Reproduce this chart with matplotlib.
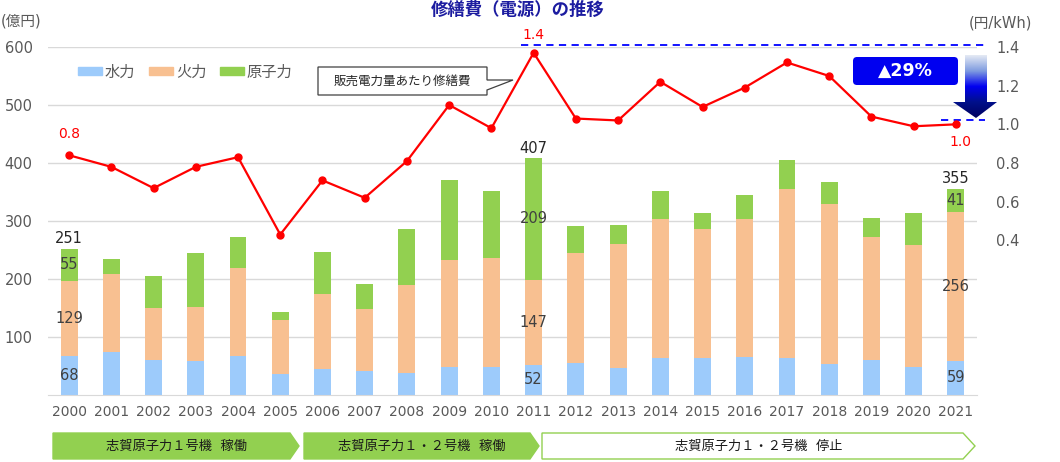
import numpy as np
import matplotlib
matplotlib.use("Agg")
import matplotlib.pyplot as plt
from matplotlib.patches import Polygon, FancyBboxPatch, Patch
from matplotlib.colors import LinearSegmentedColormap

plt.rcParams['font.family'] = ['DejaVu Sans', 'Noto Sans CJK JP']

# ---------------- data ----------------
years = [str(y) for y in range(2000, 2022)]
hydro = [68, 75, 61, 58, 68, 36, 45, 41, 38, 48, 48, 52, 55, 47, 63, 63, 65, 64, 53, 61, 48, 59]
thermal = [129, 134, 89, 94, 151, 94, 129, 107, 152, 184, 189, 147, 189, 214, 241, 223, 238, 291, 276, 212, 211, 256]
nuclear = [55, 25, 55, 92, 53, 13, 73, 43, 96, 138, 114, 209, 47, 32, 47, 28, 42, 51, 39, 32, 55, 41]
totals = [251, 234, 205, 244, 272, 143, 247, 191, 286, 370, 351, 407, 291, 293, 351, 314, 345, 406, 368, 305, 314, 355]
ratio = [0.84, 0.78, 0.67, 0.78, 0.83, 0.43, 0.71, 0.62, 0.81, 1.10, 0.98, 1.37,
         1.03, 1.02, 1.22, 1.09, 1.19, 1.32, 1.25, 1.04, 0.99, 1.00]
labeled_years = ['2000', '2011', '2021']
series_names = ['水力', '火力', '原子力']
phases = ['志賀原子力１号機  稼働', '志賀原子力１・２号機  稼働', '志賀原子力１・２号機  停止']
title = '修繕費（電源）の推移'
callout = '販売電力量あたり修繕費'

c_hydro = '#9DCBFB'
c_thermal = '#F8C091'
c_nuclear = '#92D050'
c_red = '#FF0000'
grey_txt = '#595959'

W, H = 1060, 462
fig = plt.figure(figsize=(W / 100, H / 100), dpi=100)
ax = fig.add_axes([48 / W, 1 - 395 / H, 929 / W, 348 / H])

x = np.arange(len(years))
bw = 0.40
hyd = np.array(hydro)
th = np.array(thermal)
nu = np.array(nuclear)
b1 = ax.bar(x, hyd, bw, color=c_hydro, zorder=2)
b2 = ax.bar(x, th, bw, bottom=hyd, color=c_thermal, zorder=2)
b3 = ax.bar(x, nu, bw, bottom=hyd + th, color=c_nuclear, zorder=2)

def lab(vals):
    return [str(v) if y in labeled_years else '' for y, v in zip(years, vals)]

for cont, vals in ((b1, hydro), (b2, thermal), (b3, nuclear)):
    ax.bar_label(cont, labels=lab(vals), label_type='center', fontsize=10.5, color='#404040')
ax.bar_label(b3, labels=lab(totals), padding=2, fontsize=10.5, color='#262626')

ax.set_xlim(-0.5, len(years) - 0.5)
ax.set_ylim(0, 600)
ax.set_yticks([100, 200, 300, 400, 500, 600])
ax.set_xticks(x)
ax.set_xticklabels(years)
ax.tick_params(axis='both', length=0, labelsize=10.5, labelcolor=grey_txt)
ax.tick_params(axis='x', labelsize=10, pad=7)
ax.tick_params(axis='y', pad=11)
ax.grid(axis='y', color='#D9D9D9', lw=1, zorder=0)
for s in ['left', 'right', 'top']:
    ax.spines[s].set_visible(False)
ax.spines['bottom'].set_color('#D9D9D9')

leg_handles = [Patch(color=c) for c in (c_hydro, c_thermal, c_nuclear)]
ax.legend(leg_handles, series_names, loc='center left', bbox_to_anchor=(78 / W, 1 - 72 / H),
          bbox_transform=fig.transFigure, ncol=3, frameon=False, fontsize=11,
          handlelength=1.6, handleheight=0.5, handletextpad=0.15, columnspacing=0.9,
          labelcolor=grey_txt, borderpad=0, borderaxespad=0)

# ---------------- line on right axis ----------------
ax2 = ax.twinx()
ax2.plot(x, ratio, color=c_red, lw=1.6, marker='o', ms=5, zorder=5)
ax2.set_ylim(-0.4, 1.4)
ax2.set_yticks([0.4, 0.6, 0.8, 1.0, 1.2, 1.4])
ax2.set_yticklabels([f'{v:.1f}' for v in [0.4, 0.6, 0.8, 1.0, 1.2, 1.4]])
ax2.tick_params(axis='y', length=0, labelsize=10.5, labelcolor=grey_txt, pad=14)
for s in ax2.spines.values():
    s.set_visible(False)

i_peak = int(np.argmax(ratio))
i_last = len(ratio) - 1
peak = round(ratio[i_peak], 1)
last = round(ratio[i_last], 1)
ax2.annotate(f'{ratio[0]:.1f}', (x[0], ratio[0]), xytext=(0, 10), textcoords='offset points',
             ha='center', va='bottom', color=c_red, fontsize=10)
ax2.annotate(f'{ratio[i_peak]:.1f}', (x[i_peak], ratio[i_peak]), xytext=(0, 8), textcoords='offset points',
             ha='center', va='bottom', color=c_red, fontsize=10)
ax2.annotate(f'{ratio[i_last]:.1f}', (x[i_last], ratio[i_last]), xytext=(3, -8), textcoords='offset points',
             ha='center', va='top', color=c_red, fontsize=10)
ax2.hlines(peak + 0.01, x[i_peak] - 0.3, len(years) - 0.3, colors='#0000FF', linestyles=(0, (4, 3)),
           lw=1.3, clip_on=False, zorder=4)
ax2.hlines(last + 0.02, len(years) - 1.35, len(years) - 0.3, colors='#0000FF', linestyles=(0, (4, 3)),
           lw=1.3, clip_on=False, zorder=4)

fig.text(0.5 * (423 + 613) / W, 1 - 10 / H, title, ha='center', va='center', fontsize=12.5,
         fontweight='bold', color='#1C1CA0')
fig.text(1 / W, 1 - 21 / H, '(億円)', ha='left', va='center', fontsize=10.5, color=grey_txt)
fig.text(1032 / W, 1 - 23 / H, '(円/kWh)', ha='right', va='center', fontsize=10.5, color=grey_txt)

# ---------------- overlay annotations (pixel coordinates) ----------------
ov = fig.add_axes([0, 0, 1, 1], zorder=10)
ov.set_xlim(0, W)
ov.set_ylim(H, 0)
ov.axis('off')
ov.patch.set_alpha(0)

# callout
cpoly = [(318, 67), (487, 67), (487, 80), (513, 80), (487, 90), (487, 95), (318, 95)]
ov.add_patch(Polygon(cpoly, closed=True, facecolor='white', edgecolor='#404040', lw=0.9))
ov.text((318 + 487) / 2, 81, callout, ha='center', va='center', fontsize=9, color='#262626')

# blue box
pct = round((1 - last / peak) * 100)
ov.add_patch(FancyBboxPatch((853, 57), 105, 28, boxstyle='round,pad=0,rounding_size=4',
                            facecolor='#0000F0', edgecolor='none'))
ov.text((853 + 958) / 2, 71, f'▲{pct}%', ha='center', va='center', fontsize=12.5,
        fontweight='bold', color='white')

# gradient arrow
apoly = Polygon([(965, 55), (987, 55), (987, 102), (997, 102), (976, 118),
                 (953, 102), (965, 102)], closed=True, facecolor='none', edgecolor='none')
ov.add_patch(apoly)
cmap = LinearSegmentedColormap.from_list('g', ['#E4EAF4', '#7F9CE0', '#0000F0', '#00108A', '#000060'])
grad = np.linspace(0, 1, 200).reshape(-1, 1)
im = ov.imshow(grad, cmap=cmap, extent=(953, 997, 118, 55), origin='upper', aspect='auto', zorder=3)
im.set_clip_path(apoly)

# phase chevrons
y0, y1 = 433, 459
ym = (y0 + y1) / 2
chevs = [(53, 290, 299, c_nuclear, c_nuclear), (304, 530, 539, c_nuclear, c_nuclear),
         (542, 963, 975, 'white', c_nuclear)]
for (a, b, t, fc, ec), txt in zip(chevs, phases):
    ov.add_patch(Polygon([(a, y0), (b, y0), (t, ym), (b, y1), (a, y1)], closed=True,
                         facecolor=fc, edgecolor=ec, lw=1))
    ov.text((a + t) / 2, ym, txt, ha='center', va='center', fontsize=9.5, color='#1A1A1A')

fig.savefig('out.png', dpi=100)
